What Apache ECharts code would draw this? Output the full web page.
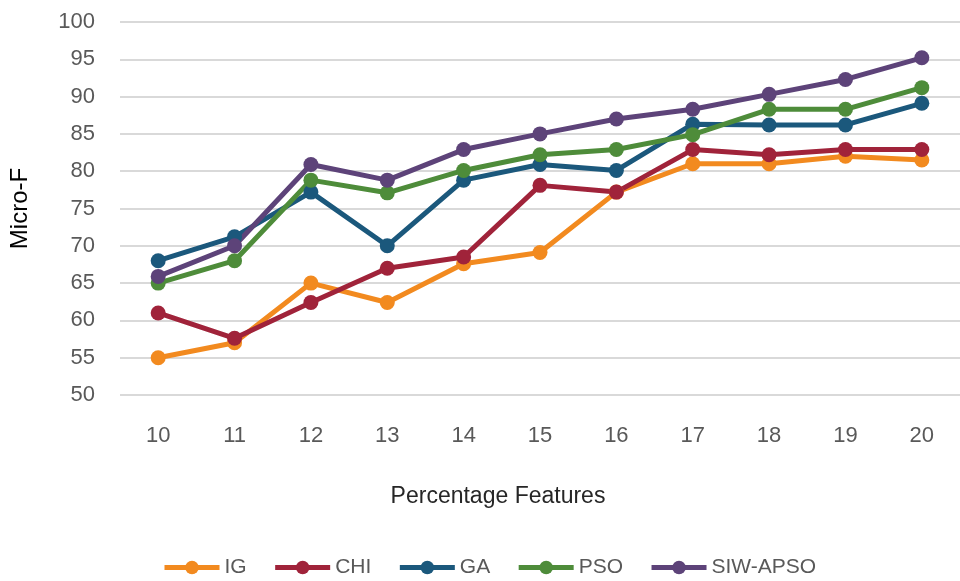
<!DOCTYPE html>
<html>
<head>
<meta charset="utf-8">
<script src="https://cdn.jsdelivr.net/npm/echarts@6/dist/echarts.min.js"></script>
<style>html,body{margin:0;padding:0;background:#fff;}#c{width:960px;height:581px;}</style>
</head>
<body>
<div id="c"></div>
<script>
var categories = ['10','11','12','13','14','15','16','17','18','19','20'];
var yTicks = [50,55,60,65,70,75,80,85,90,95,100];
var IG      = [55, 57, 65, 62.4, 67.6, 69.1, 77.2, 81, 81, 82, 81.5];
var CHI     = [61, 57.6, 62.4, 67, 68.5, 78.1, 77.2, 82.9, 82.2, 82.9, 82.9];
var GA      = [68, 71.2, 77.2, 70, 78.8, 80.9, 80.1, 86.3, 86.2, 86.2, 89.1];
var PSO     = [65, 68, 78.8, 77.1, 80.1, 82.2, 82.9, 84.9, 88.3, 88.3, 91.2];
var SIWAPSO = [65.9, 70, 80.9, 78.8, 82.9, 85, 87, 88.3, 90.3, 92.3, 95.2];
var seriesNames = ['IG','CHI','GA','PSO','SIW-APSO'];
var seriesData = [IG, CHI, GA, PSO, SIWAPSO];
var colors = ['#F28A1F','#A0233A','#1B587C','#4E8C3A','#5D4379'];

var font = '"Liberation Sans", Arial, sans-serif';
var chart = echarts.init(document.getElementById('c'));
chart.setOption({
  animation: false,
  color: colors,
  grid: {left: 118, top: 22, width: 845, height: 373, containLabel: false},
  legend: {
    data: seriesNames,
    left: 157, top: 552,
    itemWidth: 55, itemHeight: 17, itemGap: 26,
    lineStyle: {width: 5},
    textStyle: {color: '#595959', fontSize: 21, fontFamily: font}
  },
  xAxis: {
    type: 'category',
    data: categories,
    boundaryGap: true,
    axisLine: {show: false},
    axisTick: {show: false},
    axisLabel: {color: '#595959', fontSize: 22, fontFamily: font, margin: 30},
    name: 'Percentage Features',
    nameLocation: 'middle',
    nameGap: 90,
    nameTextStyle: {color: '#262626', fontSize: 23, fontFamily: font, padding: [0, 84, 0, 0]}
  },
  yAxis: {
    type: 'value',
    min: 50, max: 100, interval: 5,
    axisLine: {show: false},
    axisTick: {show: false},
    axisLabel: {color: '#595959', fontSize: 22, fontFamily: font, margin: 25},
    splitLine: {lineStyle: {color: '#D9D9D9', width: 2}},
    name: 'Micro-F',
    nameLocation: 'middle',
    nameGap: 88,
    nameTextStyle: {color: '#000', fontSize: 24, fontFamily: font}
  },
  series: seriesNames.map(function(n, i){
    return {
      name: n, type: 'line', data: seriesData[i],
      symbol: 'circle', symbolSize: 15,
      lineStyle: {width: 5, color: colors[i]},
      itemStyle: {color: colors[i]}
    };
  })
});
</script>
</body>
</html>
